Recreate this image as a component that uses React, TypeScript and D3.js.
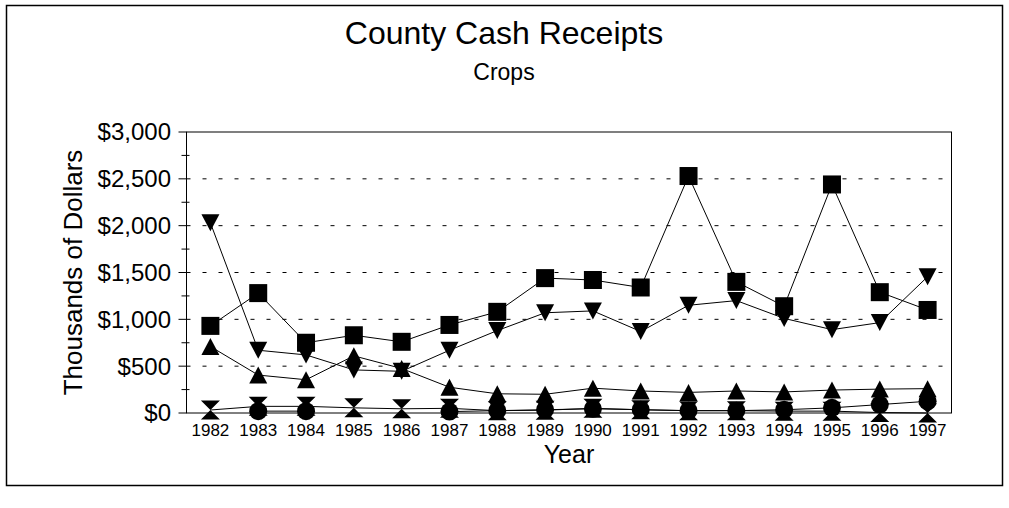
import React from "react";
import * as d3 from "d3";

const years = [1982, 1983, 1984, 1985, 1986, 1987, 1988, 1989, 1990, 1991, 1992, 1993, 1994, 1995, 1996, 1997];
const squareSeries = [930, 1280, 750, 830, 760, 940, 1080, 1440, 1420, 1340, 2530, 1400, 1140, 2440, 1290, 1100];
const downSeries = [2030, 670, 620, 460, 445, 670, 880, 1070, 1090, 870, 1150, 1200, 1010, 890, 965, 1455];
const upSeries = [710, 405, 355, 610, 475, 275, 205, 200, 265, 235, 220, 235, 225, 245, 255, 260];
const hourglassSeries = [32, 71, 71, 55, 45, 50, 25, 30, 50, 35, 25, 25, 20, 20, 5, 0];
const circleSeries = [null, 20, 20, null, null, 15, 25, 35, 45, 35, 25, 25, 35, 55, 90, 125];
const yTicks = [0, 500, 1000, 1500, 2000, 2500, 3000];
const yMinorTicks = [250, 750, 1250, 1750, 2250, 2750];

const font = "'Liberation Sans', Arial, sans-serif";

const left = 186.5;
const right = 951.5;
const top = 132;
const bottom = 413;

const x = d3.scaleLinear().domain([1981.5, 1997.5]).range([left, right]);
const y = d3.scaleLinear().domain([0, 3000]).range([bottom, top]);

type Shape = "square" | "down" | "up" | "hourglass" | "circle";

const marker = (shape: Shape, cx: number, cy: number, key: string) => {
  if (shape === "square") return <rect key={key} x={cx - 9} y={cy - 9} width={18} height={18} fill="#000" />;
  if (shape === "circle") return <circle key={key} cx={cx} cy={cy} r={9} fill="#000" />;
  if (shape === "up")
    return <path key={key} d={`M${cx},${cy - 8.5}L${cx + 9},${cy + 8.5}L${cx - 9},${cy + 8.5}Z`} fill="#000" />;
  if (shape === "down")
    return <path key={key} d={`M${cx - 9},${cy - 8.5}L${cx + 9},${cy - 8.5}L${cx},${cy + 8.5}Z`} fill="#000" />;
  return (
    <path
      key={key}
      d={`M${cx - 9.5},${cy - 9.5}L${cx + 9.5},${cy - 9.5}L${cx},${cy}L${cx + 9.5},${cy + 9.5}L${cx - 9.5},${cy + 9.5}L${cx},${cy}Z`}
      fill="#000"
    />
  );
};

const series: { values: (number | null)[]; shape: Shape }[] = [
  { values: squareSeries, shape: "square" },
  { values: downSeries, shape: "down" },
  { values: upSeries, shape: "up" },
  { values: hourglassSeries, shape: "hourglass" },
  { values: circleSeries, shape: "circle" },
];

const line = d3
  .line<number | null>()
  .defined((d) => d !== null)
  .x((d, i) => x(years[i]))
  .y((d) => y(d as number));

export default function App() {
  return (
    <svg width={1009} height={508} style={{ position: "absolute", left: 0, top: 0 }}>
      <rect x={0} y={0} width={1009} height={508} fill="#fff" />
      <rect x={6.5} y={5.5} width={996} height={480} fill="none" stroke="#000" strokeWidth={1.5} />

      <text x={504} y={44} textAnchor="middle" fontFamily={font} fontSize={32}>
        County Cash Receipts
      </text>
      <text x={504} y={80} textAnchor="middle" fontFamily={font} fontSize={23}>
        Crops
      </text>

      {/* grid */}
      {yTicks.slice(1, -1).map((t) => (
        <line key={t} x1={left} x2={right} y1={y(t)} y2={y(t)} stroke="#000" strokeDasharray="4,12" />
      ))}

      {/* y axis */}
      {yTicks.map((t) => (
        <g key={t}>
          <line x1={left - 8} x2={left} y1={y(t)} y2={y(t)} stroke="#000" />
          <text x={171} y={y(t)} dy="0.35em" textAnchor="end" fontFamily={font} fontSize={24}>
            {d3.format("$,")(t)}
          </text>
        </g>
      ))}
      {yMinorTicks.map((t) => (
        <line key={t} x1={left - 5} x2={left + 3} y1={y(t)} y2={y(t)} stroke="#000" />
      ))}

      {/* x axis */}
      {years.map((yr) => (
        <g key={yr}>
          <line x1={x(yr)} x2={x(yr)} y1={bottom} y2={bottom + 4} stroke="#000" />
          <text x={x(yr)} y={436} textAnchor="middle" fontFamily={font} fontSize={17}>
            {yr}
          </text>
        </g>
      ))}

      <rect x={left} y={top} width={right - left} height={bottom - top} fill="none" stroke="#000" />

      {series.map((s, i) => (
        <path key={i} d={line(s.values) || ""} fill="none" stroke="#000" strokeWidth={1} />
      ))}
      {series.map((s, i) =>
        s.values.map((v, j) => (v === null ? null : marker(s.shape, x(years[j]), y(v), `${i}-${j}`)))
      )}

      <text x={569} y={463} textAnchor="middle" fontFamily={font} fontSize={25}>
        Year
      </text>
      <text
        transform={`translate(82, ${(top + bottom) / 2}) rotate(-90)`}
        textAnchor="middle"
        fontFamily={font}
        fontSize={26}
      >
        Thousands of Dollars
      </text>
    </svg>
  );
}
